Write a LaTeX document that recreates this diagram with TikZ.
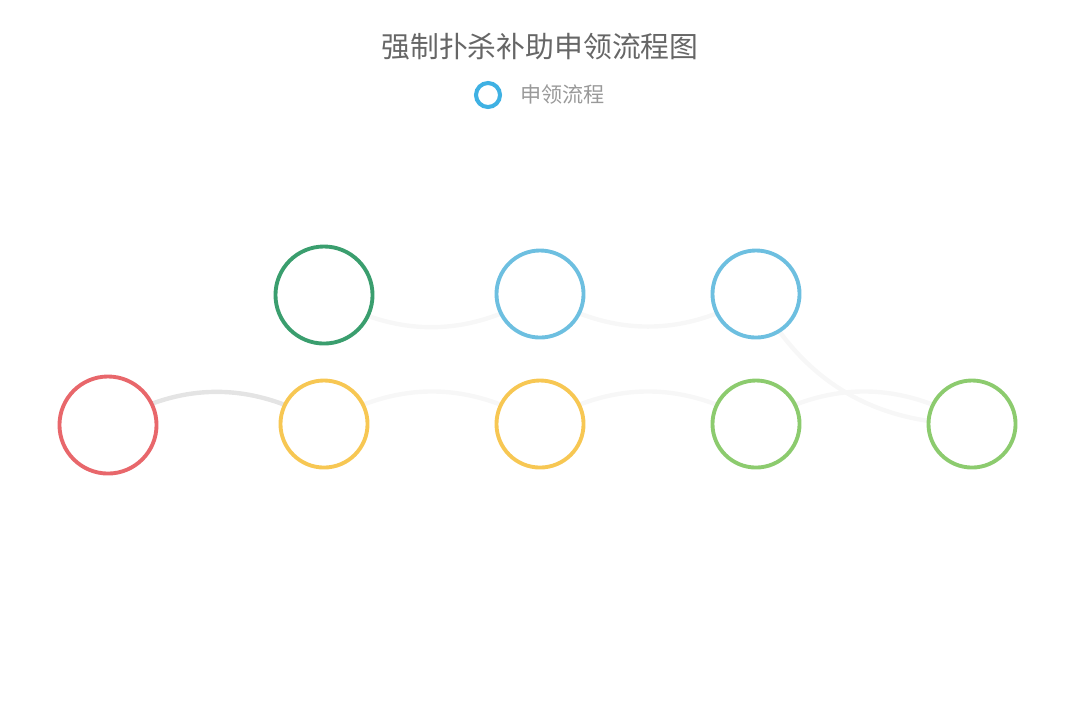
\documentclass[tikz,border=0pt]{standalone}
\usepackage{fontspec}
\newfontfamily\cjk{Noto Sans CJK SC}
\usetikzlibrary{backgrounds}
\definecolor{cred}{HTML}{E8676B}
\definecolor{cyel}{HTML}{F7C753}
\definecolor{cdgreen}{HTML}{3A9E6E}
\definecolor{cblue}{HTML}{6DBFE0}
\definecolor{clgreen}{HTML}{8CCB6E}
\definecolor{clegend}{HTML}{3FB1E3}
\definecolor{edgedark}{HTML}{E4E4E4}
\definecolor{edgelight}{HTML}{F7F7F7}
\tikzset{
  bignode/.style={circle,draw,line width=1.1pt,fill=white,minimum size=0.97cm,inner sep=0pt},
  smallnode/.style={circle,draw,line width=1.1pt,fill=white,minimum size=0.87cm,inner sep=0pt},
  edgeline/.style={line width=1.25pt,draw=edgelight},
  titletext/.style={font=\cjk\fontsize{8.2pt}{9pt}\selectfont,text=black!60},
  legendtext/.style={font=\cjk\fontsize{6pt}{7pt}\selectfont,text=black!40}
}
\begin{document}
\begin{tikzpicture}[x=0.01cm,y=-0.01cm]
\useasboundingbox (0,0) rectangle (1080,720);
\node[titletext] (title) at (540,47) {强制扑杀补助申领流程图};
\node[circle,draw=clegend,line width=1.15pt,minimum size=0.24cm,inner sep=0pt] (legicon) at (488,95) {};
\node[legendtext,anchor=west] (legtext) at (508,94) {申领流程};

\node[bignode,draw=cred] (r) at (108,425) {};
\node[smallnode,draw=cyel] (y1) at (324,424) {};
\node[smallnode,draw=cyel] (y2) at (540,424) {};
\node[smallnode,draw=clgreen] (g1) at (756,424) {};
\node[smallnode,draw=clgreen] (g2) at (972,424) {};
\node[bignode,draw=cdgreen] (dg) at (324,295) {};
\node[smallnode,draw=cblue] (b1) at (540,294) {};
\node[smallnode,draw=cblue] (b2) at (756,294) {};

\begin{pgfonlayer}{background}
\draw[edgeline,draw=edgedark] (r.center) to[bend left=31] (y1.center);
\draw[edgeline] (y1.center) to[bend left=31] (y2.center);
\draw[edgeline] (y2.center) to[bend left=31] (g1.center);
\draw[edgeline] (g1.center) to[bend left=31] (g2.center);
\draw[edgeline] (dg.center) to[bend right=31] (b1.center);
\draw[edgeline] (b1.center) to[bend right=31] (b2.center);
\draw[edgeline] (b2.center) to[bend right=31] (g2.center);
\end{pgfonlayer}
\end{tikzpicture}
\end{document}
